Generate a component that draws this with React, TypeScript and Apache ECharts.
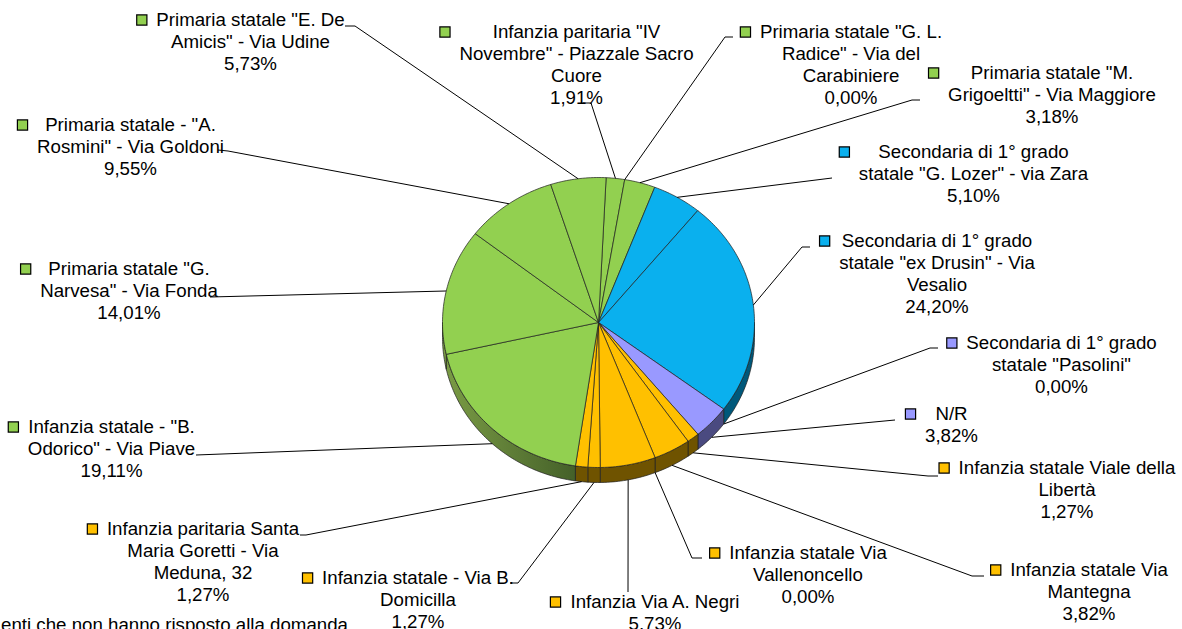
import React, { useEffect, useRef } from 'react';
import * as echarts from 'echarts';

// ---------- data ----------
const schoolNames: string[] = [
  'Infanzia paritaria "IV\nNovembre" - Piazzale Sacro\nCuore',
  'Primaria statale "G. L.\nRadice" - Via del\nCarabiniere',
  'Primaria statale "M.\nGrigoeltti" - Via Maggiore',
  'Secondaria di 1° grado\nstatale "G. Lozer" - via Zara',
  'Secondaria di 1° grado\nstatale "ex Drusin" - Via\nVesalio',
  'Secondaria di 1° grado\nstatale "Pasolini"',
  'N/R',
  'Infanzia statale Viale della\nLibertà',
  'Infanzia statale Via\nMantegna',
  'Infanzia statale Via\nVallenoncello',
  'Infanzia Via A. Negri',
  'Infanzia statale - Via B.\nDomicilla',
  'Infanzia paritaria Santa\nMaria Goretti - Via\nMeduna, 32',
  'Infanzia statale - "B.\nOdorico" - Via Piave',
  'Primaria statale "G.\nNarvesa" - Via Fonda',
  'Primaria statale - "A.\nRosmini" - Via Goldoni',
  'Primaria statale "E. De\nAmicis" - Via Udine',
];
const percentages: number[] = [
  1.91, 0, 3.18, 5.1, 24.2, 0, 3.82, 1.27, 3.82, 0, 5.73, 1.27, 1.27, 19.11, 14.01, 9.55, 5.73,
];
const schoolGroups: string[] = [
  'verde', 'verde', 'verde', 'azzurro', 'azzurro', 'viola', 'viola',
  'arancio', 'arancio', 'arancio', 'arancio', 'arancio', 'arancio',
  'verde', 'verde', 'verde', 'verde',
];
const footnote = 'enti che non hanno risposto alla domanda';

// ---------- styles / layout ----------
const TOP_COLORS: Record<string, string> = {
  verde: '#92D050',
  azzurro: '#0AB0EE',
  viola: '#9999FF',
  arancio: '#FFC000',
};
const SIDE_COLORS: Record<string, any> = {
  verde: new echarts.graphic.LinearGradient(
    443, 0, 600, 0,
    [
      { offset: 0, color: '#7b9c45' },
      { offset: 1, color: '#3a5524' },
    ],
    true
  ),
  azzurro: '#00587a',
  viola: '#4a4a80',
  arancio: '#6f5300',
};

const CX = 598.5;
const CY = 322.5;
const RX = 156;
const RY = 145;
const DEPTH = 15;
const START = 2.8; // degrees clockwise from 12 o'clock
const FONT = "'Liberation Sans', Arial, sans-serif";
const FS = 18.7;
const LH = 21.8;

// label centre x, first-line centre y, leader points on the label side
const LABEL_LAYOUT: { x: number; y: number; line: number[][] }[] = [
  { x: 576.5, y: 32, line: [[591, 103], [583, 103]] },
  { x: 851, y: 32, line: [[725, 37], [733, 37]] },
  { x: 1052, y: 73, line: [[912, 100], [920, 100]] },
  { x: 973.5, y: 152, line: [[832, 178]] },
  { x: 937, y: 241, line: [[802, 247], [810, 247]] },
  { x: 1061.5, y: 343, line: [[930, 348], [938, 348]] },
  { x: 951.5, y: 414, line: [[895, 420]] },
  { x: 1067, y: 468, line: [[928, 476], [938, 476]] },
  { x: 1089, y: 570, line: [[972, 576], [984, 576]] },
  { x: 808, y: 553, line: [[692, 558], [702, 558]] },
  { x: 655, y: 602, line: [[628, 592]] },
  { x: 418, y: 578, line: [[518, 583], [510, 583]] },
  { x: 203, y: 529, line: [[306, 535], [300, 535]] },
  { x: 111.5, y: 427, line: [[196, 455]] },
  { x: 129, y: 269, line: [[210, 297]] },
  { x: 130.5, y: 125, line: [[228, 151], [218, 150]] },
  { x: 250.5, y: 20, line: [[355, 26], [345, 26]] },
];

const rad = (d: number) => (d * Math.PI) / 180;
const ellPt = (deg: number, dy = 0): number[] => [
  CX + RX * Math.sin(rad(deg)),
  CY - RY * Math.cos(rad(deg)) + dy,
];
const arcPts = (a0: number, a1: number, dy = 0): number[][] => {
  const pts: number[][] = [];
  const step = 1;
  for (let a = a0; a < a1; a += step) pts.push(ellPt(a, dy));
  pts.push(ellPt(a1, dy));
  return pts;
};

export default function App() {
  const ref = useRef<HTMLDivElement>(null);

  useEffect(() => {
    document.body.style.margin = '0';
    if (!ref.current) return;
    const chart = echarts.init(ref.current, undefined, { renderer: 'svg' });
    const total = percentages.reduce((s, v) => s + v, 0);

    const renderItem = (params: any, api: any) => {
      const i = params.dataIndex;
      const v = api.value(1) as number;
      let before = 0;
      for (let k = 0; k < i; k++) before += percentages[k];
      const a0 = START + (before / total) * 360;
      const a1 = a0 + (v / total) * 360;
      const group = schoolGroups[i];
      const children: any[] = [];

      if (v > 0) {
        children.push({
          type: 'polygon',
          z2: 10,
          shape: { points: [[CX, CY], ...arcPts(a0, a1)] },
          style: { fill: TOP_COLORS[group], stroke: '#1e1e1e', lineWidth: 0.7, lineJoin: 'round' },
        });
        const s0 = Math.max(a0, 90);
        const s1 = Math.min(a1, 270);
        if (s1 > s0) {
          const top = arcPts(s0, s1);
          const bottom = arcPts(s0, s1, DEPTH).reverse();
          children.push({
            type: 'polygon',
            z2: 5,
            shape: { points: [...top, ...bottom] },
            style: { fill: SIDE_COLORS[group], stroke: '#1e1e1e', lineWidth: 0.7, lineJoin: 'round' },
          });
        }
      }

      const mid = (a0 + a1) / 2;
      const lower = Math.cos(rad(mid)) < 0;
      const anchor = ellPt(mid, lower ? DEPTH : 0);
      const lay = LABEL_LAYOUT[i];
      children.push({
        type: 'polyline',
        z2: 20,
        shape: { points: [anchor, ...lay.line] },
        style: { fill: 'none', stroke: '#000', lineWidth: 1 },
      });

      const pct = v.toFixed(2).replace('.', ',') + '%';
      const lines = [...schoolNames[i].split('\n'), pct];
      const text = lines
        .map((l, k) => (k === 0 ? '{sq| }{gap| }' : '{lp| }') + l + '{rp| }')
        .join('\n');
      children.push({
        type: 'text',
        z2: 30,
        x: lay.x,
        y: lay.y - LH / 2,
        style: {
          text,
          fill: '#000',
          fontSize: FS,
          fontFamily: FONT,
          align: 'center',
          verticalAlign: 'top',
          lineHeight: LH,
          rich: {
            sq: {
              width: 9,
              height: 9,
              align: 'left',
              backgroundColor: TOP_COLORS[group],
              borderColor: '#000',
              borderWidth: 1.2,
              lineHeight: LH,
            },
            gap: { width: 10, align: 'left', lineHeight: LH },
            lp: { width: 19, align: 'left', lineHeight: LH },
            rp: { width: 19, align: 'right', lineHeight: LH },
          },
        },
      });

      return { type: 'group', children };
    };

    chart.setOption({
      animation: false,
      backgroundColor: '#ffffff',
      series: [
        {
          type: 'custom',
          coordinateSystem: 'none',
          silent: true,
          renderItem,
          data: percentages.map((v, i) => ({ name: schoolNames[i], value: [i, v] })),
        },
      ],
      graphic: [
        {
          type: 'text',
          x: 1,
          y: 624.5,
          silent: true,
          style: {
            text: footnote,
            fill: '#000',
            fontSize: FS,
            fontFamily: FONT,
            align: 'left',
            verticalAlign: 'middle',
          },
        },
      ],
    });

    return () => chart.dispose();
  }, []);

  return <div ref={ref} style={{ width: 1182, height: 629 }} />;
}
